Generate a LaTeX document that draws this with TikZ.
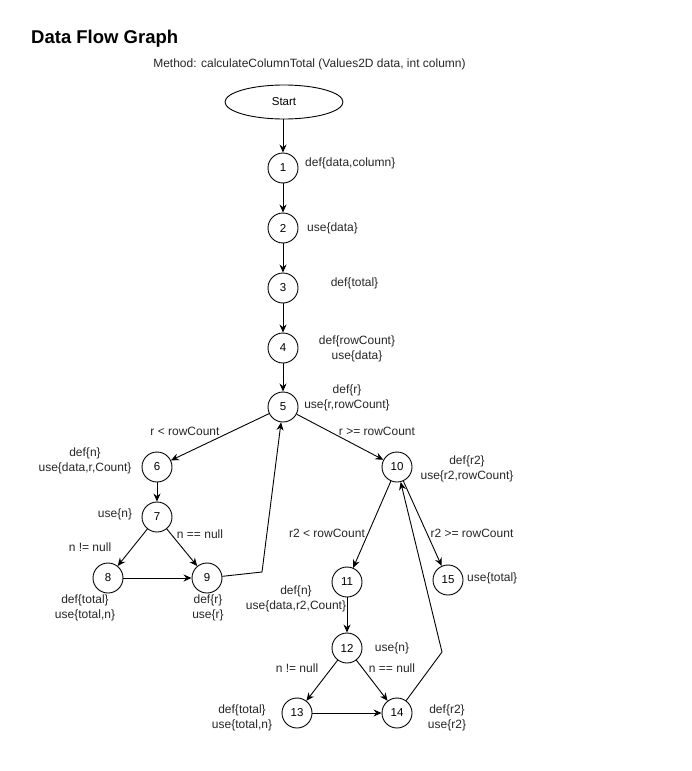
\documentclass[tikz,border=0pt]{standalone}
\usepackage{fontspec}
\setmainfont{Liberation Sans}
\usetikzlibrary{arrows.meta,shapes.geometric}
\begin{document}
\begin{tikzpicture}[x=1pt,y=-1pt,
  vtx/.style={circle,draw,line width=0.9pt,minimum size=30pt,inner sep=0pt,font=\fontsize{11.5}{13}\selectfont},
  lbl/.style={inner sep=0pt,align=center,font=\fontsize{12}{15}\selectfont,text=black!85},
  edge/.style={line width=0.9pt,-{Stealth[length=8pt,width=7pt]}}]
\useasboundingbox (0,0) rectangle (691,771);
\node[anchor=west,inner sep=0pt,font=\fontsize{18.5}{20}\selectfont\bfseries] (title) at (31,39) {Data Flow Graph};
\node[lbl] (method) at (309.5,64) {Method: calculateColumnTotal (Values2D data, int column)};
\node[ellipse,draw,line width=0.9pt,minimum width=118pt,minimum height=34pt,inner sep=0pt,font=\fontsize{11.5}{13}\selectfont] (start) at (284,102) {Start};
\node[vtx] (n1) at (283,168) {1};
\node[vtx] (n2) at (283,228) {2};
\node[vtx] (n3) at (283,288) {3};
\node[vtx] (n4) at (283,348) {4};
\node[vtx] (n5) at (283,407) {5};
\node[vtx] (n6) at (157,467) {6};
\node[vtx] (n7) at (157,517) {7};
\node[vtx] (n8) at (108,578) {8};
\node[vtx] (n9) at (207,578) {9};
\node[vtx] (n10) at (397,467) {10};
\node[vtx] (n11) at (347,582) {11};
\node[vtx] (n12) at (347,648) {12};
\node[vtx] (n13) at (297,713) {13};
\node[vtx] (n14) at (397,713) {14};
\node[vtx] (n15) at (448,580) {15};
\coordinate (b9) at (262,572);
\coordinate (b14) at (442,652);
% labels
\node[lbl,anchor=west] (l1) at (305,163) {def\{data,column\}};
\node[lbl,anchor=west] (l2) at (307,228) {use\{data\}};
\node[lbl] (l3) at (354.5,283) {def\{total\}};
\node[lbl] (l4) at (357,348.5) {def\{rowCount\}\\use\{data\}};
\node[lbl] (l5) at (347,398) {def\{r\}\\use\{r,rowCount\}};
\node[lbl] (e56) at (185,431) {r < rowCount};
\node[lbl] (e510) at (377,431) {r >= rowCount};
\node[lbl] (l6) at (85,461) {def\{n\}\\use\{data,r,Count\}};
\node[lbl] (l7) at (115,514) {use\{n\}};
\node[lbl] (e79) at (200,534) {n == null};
\node[lbl] (e78) at (90,547) {n != null};
\node[lbl] (l8) at (85,608) {def\{total\}\\use\{total,n\}};
\node[lbl] (l9) at (208,608) {def\{r\}\\use\{r\}};
\node[lbl] (l10) at (467,468.5) {def\{r2\}\\use\{r2,rowCount\}};
\node[lbl] (e1011) at (327,533) {r2 < rowCount};
\node[lbl] (e1015) at (472,533) {r2 >= rowCount};
\node[lbl,anchor=west] (l15) at (467,578) {use\{total\}};
\node[lbl] (l11) at (296,598.5) {def\{n\}\\use\{data,r2,Count\}};
\node[lbl] (l12) at (392,648) {use\{n\}};
\node[lbl] (e1213) at (297,668) {n != null};
\node[lbl] (e1214) at (392,668) {n == null};
\node[lbl] (l13) at (242,718) {def\{total\}\\use\{total,n\}};
\node[lbl] (l14) at (447,718) {def\{r2\}\\use\{r2\}};
% edges
\draw[edge] (start.south -| n1) -- (n1);
\draw[edge] (n1) -- (n2);
\draw[edge] (n2) -- (n3);
\draw[edge] (n3) -- (n4);
\draw[edge] (n4) -- (n5);
\draw[edge] (n5) -- (n6);
\draw[edge] (n5) -- (n10);
\draw[edge] (n6) -- (n7);
\draw[edge] (n7) -- (n8);
\draw[edge] (n7) -- (n9);
\draw[edge] (n8) -- (n9);
\draw[edge] (n9) -- (b9) -- (n5);
\draw[edge] (n10) -- (n11);
\draw[edge] (n10) -- (n15);
\draw[edge] (n11) -- (n12);
\draw[edge] (n12) -- (n13);
\draw[edge] (n12) -- (n14);
\draw[edge] (n13) -- (n14);
\draw[edge] (n14) -- (b14) -- (n10);
\end{tikzpicture}
\end{document}
